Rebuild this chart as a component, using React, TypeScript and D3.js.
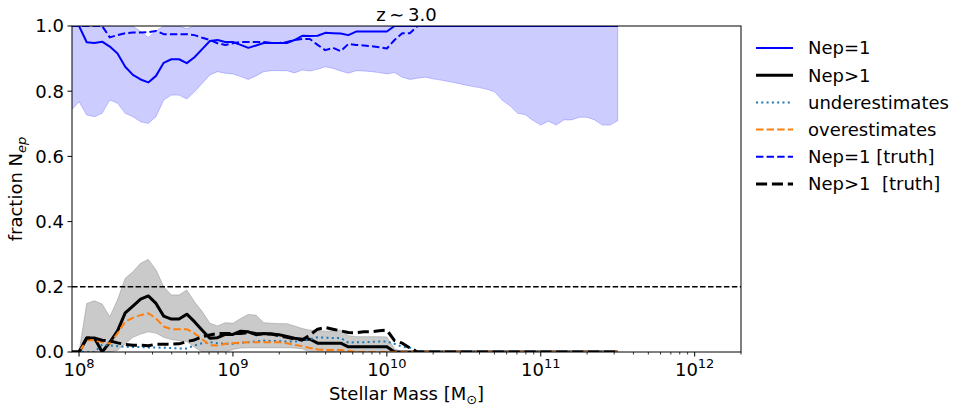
import * as d3 from "d3";
import React, { useEffect, useRef } from "react";

// log10 stellar mass grid (bin centres)
const logMass = [
  7.95, 8.0, 8.05, 8.1, 8.15, 8.2, 8.25, 8.3, 8.35, 8.4,
  8.45, 8.5, 8.55, 8.6, 8.65, 8.7, 8.75, 8.8, 8.85, 8.9,
  8.95, 9.0, 9.05, 9.1, 9.15, 9.2, 9.25, 9.3, 9.35, 9.4,
  9.45, 9.5, 9.55, 9.6, 9.65, 9.7, 9.75, 9.8, 9.85, 9.9,
  9.95, 10.0, 10.05, 10.1, 10.15, 10.2, 10.25, 10.3, 10.35, 10.4,
  10.45, 10.5, 10.55, 10.6, 10.65, 10.7, 10.75, 10.8, 10.85, 10.9,
  10.95, 11.0, 11.05, 11.1, 11.15, 11.2, 11.25, 11.3, 11.35, 11.4,
  11.45, 11.5,
];

const nep1 = [
  1, 1, 0.95, 0.948, 0.952, 0.937, 0.916, 0.875, 0.85, 0.836,
  0.827, 0.847, 0.887, 0.898, 0.898, 0.886, 0.904, 0.929, 0.954, 0.957,
  0.951, 0.951, 0.942, 0.933, 0.94, 0.948, 0.948, 0.948, 0.948, 0.957,
  0.97, 0.969, 0.97, 0.979, 0.978, 0.977, 0.972, 0.983, 0.983, 0.983,
  0.983, 0.983, 1, 1, 1, 1, 1, 1, 1, 1,
  1, 1, 1, 1, 1, 1, 1, 1, 1, 1,
  1, 1, 1, 1, 1, 1, 1, 1, 1, 1,
  1, 1,
];

const nep1Low = [
  0.742, 0.768, 0.727, 0.722, 0.732, 0.773, 0.763, 0.732, 0.722, 0.706,
  0.701, 0.722, 0.773, 0.788, 0.788, 0.776, 0.798, 0.824, 0.85, 0.86,
  0.855, 0.853, 0.845, 0.836, 0.847, 0.86, 0.863, 0.863, 0.863, 0.856,
  0.865, 0.862, 0.867, 0.875, 0.87, 0.862, 0.855, 0.863, 0.862, 0.86,
  0.857, 0.853, 0.857, 0.843, 0.836, 0.84, 0.843, 0.838, 0.834, 0.83,
  0.825, 0.82, 0.815, 0.811, 0.806, 0.798, 0.772, 0.755, 0.732, 0.728,
  0.71, 0.696, 0.708, 0.696, 0.712, 0.712, 0.72, 0.72, 0.712, 0.696,
  0.696, 0.709,
];

const nep1High = [
  1, 1, 1, 1, 1, 1, 1, 1, 1, 0.983,
  0.965, 0.985, 1, 1, 1, 0.992, 1, 1, 1, 1,
  1, 1, 1, 1, 1, 1, 1, 1, 1, 1,
  1, 1, 1, 1, 1, 1, 1, 1, 1, 1,
  1, 1, 1, 1, 1, 1, 1, 1, 1, 1,
  1, 1, 1, 1, 1, 1, 1, 1, 1, 1,
  1, 1, 1, 1, 1, 1, 1, 1, 1, 1,
  1, 1,
];

const nepGt1 = [
  0, 0, 0.043, 0.043, 0, 0.03, 0.065, 0.12, 0.141, 0.162,
  0.172, 0.149, 0.11, 0.101, 0.101, 0.116, 0.093, 0.067, 0.042, 0.044,
  0.054, 0.054, 0.064, 0.062, 0.053, 0.057, 0.055, 0.053, 0.048, 0.042,
  0.039, 0.039, 0.027, 0.027, 0.027, 0.027, 0.016, 0.016, 0.016, 0.016,
  0.016, 0.016, 0, 0, 0, 0, 0, 0, 0, 0,
  0, 0, 0, 0, 0, 0, 0, 0, 0, 0,
  0, 0, 0, 0, 0, 0, 0, 0, 0, 0,
  0, 0,
];

const nepGt1Low = [
  0, 0, 0, 0, 0, 0, 0.005, 0.025, 0.045, 0.055,
  0.062, 0.058, 0.045, 0.038, 0.035, 0.032, 0.015, 0, 0, 0,
  0, 0.008, 0.012, 0.013, 0.013, 0.013, 0.013, 0.013, 0.013, 0.012,
  0.01, 0, 0, 0, 0, 0, 0, 0, 0, 0,
  0, 0, 0, 0, 0, 0, 0, 0, 0, 0,
  0, 0, 0, 0, 0, 0, 0, 0, 0, 0,
  0, 0, 0, 0, 0, 0, 0, 0, 0, 0,
  0, 0,
];

const nepGt1High = [
  0, 0, 0.149, 0.157, 0.147, 0.108, 0.16, 0.226, 0.246, 0.272,
  0.284, 0.252, 0.2, 0.175, 0.175, 0.19, 0.154, 0.124, 0.088, 0.08,
  0.09, 0.088, 0.103, 0.115, 0.113, 0.09, 0.088, 0.087, 0.087, 0.08,
  0.072, 0.067, 0.066, 0.064, 0.064, 0.067, 0.05, 0.047, 0.047, 0.047,
  0.047, 0.046, 0.01, 0, 0, 0, 0, 0, 0, 0,
  0, 0, 0, 0, 0, 0, 0, 0, 0, 0,
  0, 0, 0, 0, 0, 0, 0, 0, 0, 0,
  0, 0,
];

const underest = [
  0, 0, 0, 0, 0.022, 0.02, 0.018, 0.016, 0.015, 0.015,
  0.014, 0.014, 0.013, 0.012, 0.011, 0.011, 0.02, 0.027, 0.03, 0.027,
  0.025, 0.025, 0.028, 0.03, 0.033, 0.035, 0.034, 0.033, 0.032, 0.032,
  0.035, 0.039, 0.045, 0.044, 0.043, 0.043, 0.029, 0.03, 0.03, 0.031,
  0.032, 0.032, 0.025, 0.016, 0.013, 0.003, 0, 0, 0, 0,
  0, 0, 0, 0, 0, 0, 0, 0, 0, 0,
  0, 0, 0, 0, 0, 0, 0, 0, 0, 0,
  0, 0,
];

const overest = [
  0, 0, 0.036, 0.036, 0.03, 0.026, 0.057, 0.093, 0.105, 0.113,
  0.119, 0.103, 0.078, 0.07, 0.07, 0.07, 0.057, 0.039, 0.021, 0.02,
  0.025, 0.027, 0.029, 0.03, 0.03, 0.03, 0.03, 0.03, 0.027, 0.022,
  0.018, 0.012, 0.008, 0.006, 0.006, 0.006, 0.003, 0, 0, 0,
  0, 0, 0, 0, 0, 0, 0, 0, 0, 0,
  0, 0, 0, 0, 0, 0, 0, 0, 0, 0,
  0, 0, 0, 0, 0, 0, 0, 0, 0, 0,
  0, 0,
];

const nep1Truth = [
  1, 1, 1, 1, 1, 0.965, 0.972, 0.978, 0.98, 0.98,
  0.981, 0.985, 0.975, 0.975, 0.975, 0.975, 0.972, 0.964, 0.957, 0.947,
  0.942, 0.947, 0.951, 0.951, 0.951, 0.951, 0.948, 0.948, 0.951, 0.957,
  0.96, 0.96, 0.942, 0.926, 0.933, 0.923, 0.945, 0.942, 0.94, 0.938,
  0.935, 0.931, 0.957, 0.978, 0.978, 1, 1, 1, 1, 1,
  1, 1, 1, 1, 1, 1, 1, 1, 1, 1,
  1, 1, 1, 1, 1, 1, 1, 1, 1, 1,
  1, 1,
];

const nepGt1Truth = [
  0, 0, 0.043, 0.043, 0.036, 0.034, 0.028, 0.023, 0.021, 0.021,
  0.019, 0.024, 0.024, 0.024, 0.025, 0.032, 0.037, 0.047, 0.052, 0.057,
  0.057, 0.057, 0.057, 0.06, 0.057, 0.055, 0.055, 0.05, 0.045, 0.04,
  0.037, 0.052, 0.07, 0.075, 0.07, 0.065, 0.06, 0.059, 0.062, 0.062,
  0.065, 0.067, 0.035, 0.027, 0.012, 0, 0, 0, 0, 0,
  0, 0, 0, 0, 0, 0, 0, 0, 0, 0,
  0, 0, 0, 0, 0, 0, 0, 0, 0, 0,
  0, 0,
];

const yTicks = [0, 0.2, 0.4, 0.6, 0.8, 1.0];
const xDecades = [8, 9, 10, 11, 12];
const threshold = 0.2;

const legendItems = [
  { label: "Nep=1", color: "#0000ff", width: 2, dash: "" },
  { label: "Nep>1", color: "#000000", width: 3, dash: "" },
  { label: "underestimates", color: "#1f77b4", width: 2, dash: "2,3.3" },
  { label: "overestimates", color: "#ff7f0e", width: 2, dash: "7.4,3.2" },
  { label: "Nep=1 [truth]", color: "#0000ff", width: 2, dash: "7.4,3.2" },
  { label: "Nep>1  [truth]", color: "#000000", width: 3, dash: "11.1,4.8" },
];

const FONT = "DejaVu Sans, sans-serif";

function drawChart(node: SVGSVGElement) {
  const width = 963;
  const height = 411;
  const margin = { top: 26, right: 222, bottom: 59, left: 72 };

  const svg = d3.select(node)
    .attr("width", width)
    .attr("height", height)
    .attr("viewBox", `0 0 ${width} ${height}`);

  svg.selectAll("*").remove();

  const x = d3.scaleLog()
    .domain([9e7, 2e12])
    .range([margin.left, width - margin.right]);

  const y = d3.scaleLinear()
    .domain([0, 1])
    .range([height - margin.bottom, margin.top]);

  const mass = logMass.map((l) => Math.pow(10, l));

  svg.append("defs").append("clipPath")
    .attr("id", "plotclip")
    .append("rect")
    .attr("x", margin.left)
    .attr("y", margin.top)
    .attr("width", width - margin.right - margin.left)
    .attr("height", height - margin.bottom - margin.top);

  const plot = svg.append("g").attr("clip-path", "url(#plotclip)");

  const band = (lo: number[], hi: number[]) =>
    d3.area<number>()
      .x((_, i) => x(mass[i]))
      .y0((_, i) => y(lo[i]))
      .y1((_, i) => y(hi[i]))(lo);

  // blue band
  plot.append("path")
    .attr("d", band(nep1Low, nep1High))
    .attr("fill", "#0000ff")
    .attr("fill-opacity", 0.2)
    .attr("stroke", "#0000ff")
    .attr("stroke-opacity", 0.2)
    .attr("stroke-width", 1);

  // grey band
  plot.append("path")
    .attr("d", band(nepGt1Low, nepGt1High))
    .attr("fill", "#808080")
    .attr("fill-opacity", 0.42)
    .attr("stroke", "#808080")
    .attr("stroke-opacity", 0.42)
    .attr("stroke-width", 1);

  // threshold line
  plot.append("line")
    .attr("x1", margin.left)
    .attr("x2", width - margin.right)
    .attr("y1", y(threshold))
    .attr("y2", y(threshold))
    .attr("stroke", "#000")
    .attr("stroke-width", 1.5)
    .attr("stroke-dasharray", "5.55,2.4");

  const line = d3.line<number>()
    .x((_, i) => x(mass[i]))
    .y((d) => y(d));

  const series = [
    { values: nep1, item: legendItems[0] },
    { values: nepGt1, item: legendItems[1] },
    { values: underest, item: legendItems[2] },
    { values: overest, item: legendItems[3] },
    { values: nep1Truth, item: legendItems[4] },
    { values: nepGt1Truth, item: legendItems[5] },
  ];

  series.forEach((s) => {
    plot.append("path")
      .attr("d", line(s.values))
      .attr("fill", "none")
      .attr("stroke", s.item.color)
      .attr("stroke-width", s.item.width)
      .attr("stroke-dasharray", s.item.dash || null)
      .attr("stroke-linejoin", "round");
  });

  // frame
  svg.append("rect")
    .attr("x", margin.left)
    .attr("y", margin.top)
    .attr("width", width - margin.right - margin.left)
    .attr("height", height - margin.bottom - margin.top)
    .attr("fill", "none")
    .attr("stroke", "#000")
    .attr("stroke-width", 1);

  const y0 = height - margin.bottom;

  // y ticks
  yTicks.forEach((t) => {
    svg.append("line")
      .attr("x1", margin.left - 4.5)
      .attr("x2", margin.left)
      .attr("y1", y(t))
      .attr("y2", y(t))
      .attr("stroke", "#000");
    svg.append("text")
      .attr("x", margin.left - 8)
      .attr("y", y(t))
      .attr("dy", "0.35em")
      .attr("text-anchor", "end")
      .style("font", `18px ${FONT}`)
      .text(t.toFixed(1));
  });

  // x minor ticks
  xDecades.forEach((dec) => {
    for (let k = 2; k <= 9; k++) {
      const v = k * Math.pow(10, dec);
      if (v < x.domain()[0] || v > x.domain()[1]) continue;
      svg.append("line")
        .attr("x1", x(v)).attr("x2", x(v))
        .attr("y1", y0).attr("y2", y0 + 2.5)
        .attr("stroke", "#000")
        .attr("stroke-width", 0.8);
    }
  });

  // x major ticks
  xDecades.forEach((dec) => {
    const xv = x(Math.pow(10, dec));
    svg.append("line")
      .attr("x1", xv).attr("x2", xv)
      .attr("y1", y0).attr("y2", y0 + 4.5)
      .attr("stroke", "#000");
    const t = svg.append("text")
      .attr("x", xv)
      .attr("y", 375.5)
      .attr("text-anchor", "middle")
      .style("font", `18px ${FONT}`);
    t.append("tspan").text("10");
    t.append("tspan")
      .attr("dy", -7.5)
      .style("font-size", "13px")
      .text(String(dec));
  });

  // axis labels
  const xl = svg.append("text")
    .attr("x", (margin.left + width - margin.right) / 2)
    .attr("y", 400)
    .attr("text-anchor", "middle")
    .style("font", `18px ${FONT}`);
  xl.append("tspan").text("Stellar Mass [M");
  xl.append("tspan").attr("dy", 4).style("font-size", "13px").text("\u2299");
  xl.append("tspan").attr("dy", -4).text("]");

  const yl = svg.append("text")
    .attr("transform", `translate(22,${189}) rotate(-90)`)
    .attr("text-anchor", "middle")
    .style("font", `18px ${FONT}`);
  yl.append("tspan").text("fraction N");
  yl.append("tspan").attr("dy", 4).style("font-size", "13px").style("font-style", "italic").text("ep");

  svg.append("text")
    .attr("x", (margin.left + width - margin.right) / 2)
    .attr("y", 20.5)
    .attr("text-anchor", "middle")
    .style("font", `18px ${FONT}`)
    .text("z\u2009\u223C\u20093.0");

  // legend
  const lg = svg.append("g");
  legendItems.forEach((it, i) => {
    const cy = 48 + i * 27.2;
    lg.append("line")
      .attr("x1", 756).attr("x2", 793)
      .attr("y1", cy).attr("y2", cy)
      .attr("stroke", it.color)
      .attr("stroke-width", it.width)
      .attr("stroke-dasharray", it.dash || null);
    lg.append("text")
      .attr("x", 808)
      .attr("y", cy)
      .attr("dy", "0.35em")
      .style("font", `18px ${FONT}`)
      .style("white-space", "pre")
      .attr("xml:space", "preserve")
      .text(it.label);
  });
}

export default function App() {
  const ref = useRef<SVGSVGElement>(null);
  useEffect(() => {
    if (ref.current) drawChart(ref.current);
  });
  return (
    <div style={{ position: "absolute", left: 0, top: 0, background: "#fff" }}>
      <svg ref={ref} style={{ display: "block" }}></svg>
    </div>
  );
}
